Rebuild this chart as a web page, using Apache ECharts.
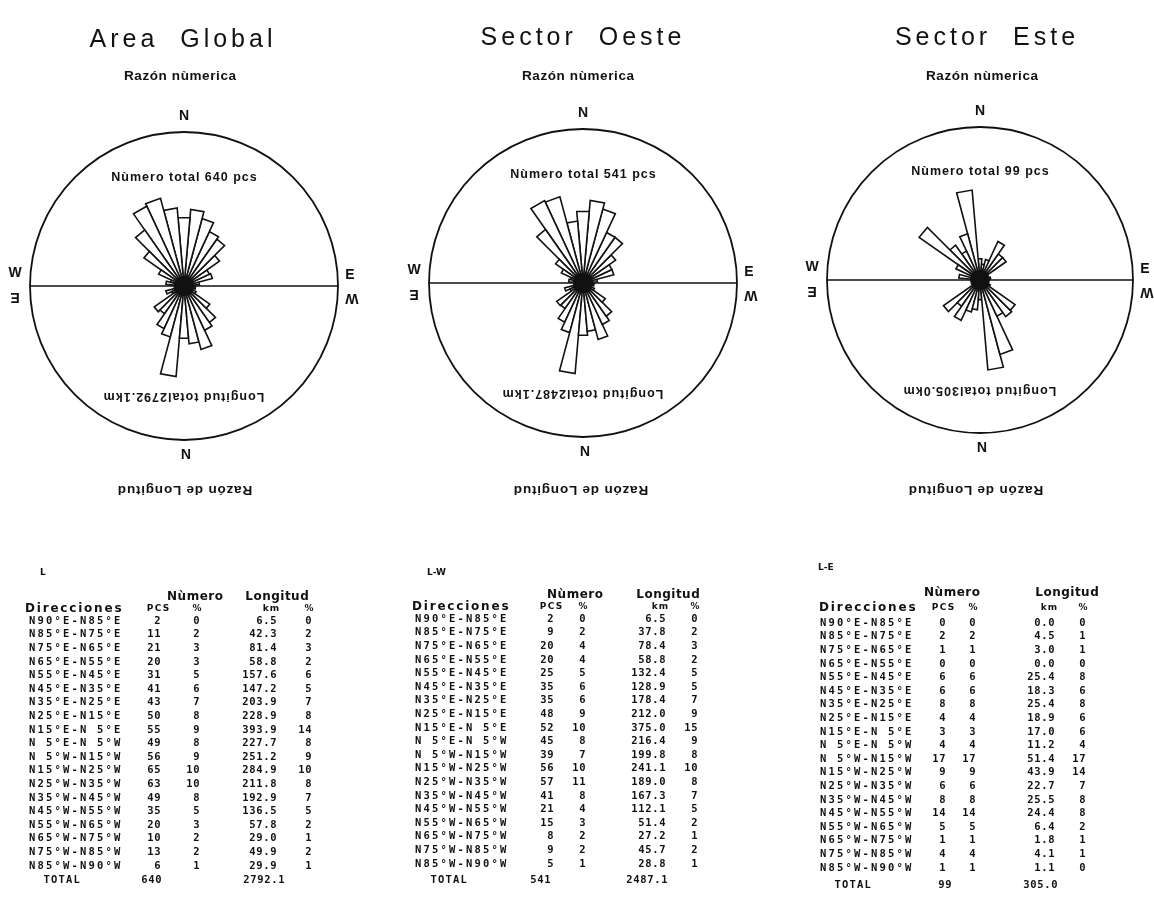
<!DOCTYPE html>
<html>
<head>
<meta charset="utf-8">
<script src="https://cdn.jsdelivr.net/npm/echarts@6/dist/echarts.min.js"></script>
<style>
  html, body { margin: 0; padding: 0; background: #ffffff; }
  #chart { width: 1154px; height: 899px; }
</style>
</head>
<body>
<div id="chart"></div>
<script>
// Direction classes of the lineaments, from N90°E round through N to N90°W
const directions = ['N90°E-N85°E', 'N85°E-N75°E', 'N75°E-N65°E', 'N65°E-N55°E', 'N55°E-N45°E',
  'N45°E-N35°E', 'N35°E-N25°E', 'N25°E-N15°E', 'N15°E-N 5°E', 'N 5°E-N 5°W', 'N 5°W-N15°W',
  'N15°W-N25°W', 'N25°W-N35°W', 'N35°W-N45°W', 'N45°W-N55°W', 'N55°W-N65°W', 'N65°W-N75°W',
  'N75°W-N85°W', 'N85°W-N90°W'];
// limits of each class as azimuths (degrees clockwise from N, west negative)
const azFrom = [90, 85, 75, 65, 55, 45, 35, 25, 15, 5, -5, -15, -25, -35, -45, -55, -65, -75, -85];
const azTo = [85, 75, 65, 55, 45, 35, 25, 15, 5, -5, -15, -25, -35, -45, -55, -65, -75, -85, -90];

// Area Global
const globalPcs = [2, 11, 21, 20, 31, 41, 43, 50, 55, 49, 56, 65, 63, 49, 35, 20, 10, 13, 6];
const globalPcsPct = [0, 2, 3, 3, 5, 6, 7, 8, 9, 8, 9, 10, 10, 8, 5, 3, 2, 2, 1];
const globalKm = [6.5, 42.3, 81.4, 58.8, 157.6, 147.2, 203.9, 228.9, 393.9, 227.7, 251.2, 284.9, 211.8, 192.9, 136.5, 57.8, 29.0, 49.9, 29.9];
const globalKmPct = [0, 2, 3, 2, 6, 5, 7, 8, 14, 8, 9, 10, 8, 7, 5, 2, 1, 2, 1];

// Sector Oeste
const westPcs = [2, 9, 20, 20, 25, 35, 35, 48, 52, 45, 39, 56, 57, 41, 21, 15, 8, 9, 5];
const westPcsPct = [0, 2, 4, 4, 5, 6, 6, 9, 10, 8, 7, 10, 11, 8, 4, 3, 2, 2, 1];
const westKm = [6.5, 37.8, 78.4, 58.8, 132.4, 128.9, 178.4, 212.0, 375.0, 216.4, 199.8, 241.1, 189.0, 167.3, 112.1, 51.4, 27.2, 45.7, 28.8];
const westKmPct = [0, 2, 3, 2, 5, 5, 7, 9, 15, 9, 8, 10, 8, 7, 5, 2, 1, 2, 1];

// Sector Este
const eastPcs = [0, 2, 1, 0, 6, 6, 8, 4, 3, 4, 17, 9, 6, 8, 14, 5, 1, 4, 1];
const eastPcsPct = [0, 2, 1, 0, 6, 6, 8, 4, 3, 4, 17, 9, 6, 8, 14, 5, 1, 4, 1];
const eastKm = [0.0, 4.5, 3.0, 0.0, 25.4, 18.3, 25.4, 18.9, 17.0, 11.2, 51.4, 43.9, 22.7, 25.5, 24.4, 6.4, 1.8, 4.1, 1.1];
const eastKmPct = [0, 1, 1, 0, 8, 6, 8, 6, 6, 4, 17, 14, 7, 8, 8, 2, 1, 1, 0];

const panelTitles = ['Area  Global', 'Sector  Oeste', 'Sector  Este'];
const tableTags = ['L', 'L-W', 'L-E'];
const totalPcs = [640, 541, 99];
const totalKm = [2792.1, 2487.1, 305.0];

const datasets = [
  { pcs: globalPcs, pcsPct: globalPcsPct, km: globalKm, kmPct: globalKmPct },
  { pcs: westPcs, pcsPct: westPcsPct, km: westKm, kmPct: westKmPct },
  { pcs: eastPcs, pcsPct: eastPcsPct, km: eastKm, kmPct: eastKmPct }
];

// ---------- layout ----------
const INK = '#111111';
const PETAL_REACH = 0.59;   // longest petal as a share of the circle radius
const ROW_STEP = 13.6;
const layout = [
  { cx: 184, cy: 286, R: 154, titleX: 181, titleY: 40, subX: 180, lowX: 185,
    t: { tagX: 40, tagY: 573, numX: 195, longX: 277, headY: 597, dirX: 25, subY: 609, labelX: 28,
         pcsR: 161, pctR: 200, kmR: 277, kmPctR: 312, rowY0: 621, totX: 43, totY: 880, totPcsR: 162, totKmR: 285 } },
  { cx: 583, cy: 283, R: 154, titleX: 581, titleY: 38, subX: 578, lowX: 581,
    t: { tagX: 427, tagY: 573, numX: 575, longX: 668, headY: 595, dirX: 412, subY: 607, labelX: 414,
         pcsR: 554, pctR: 586, kmR: 666, kmPctR: 698, rowY0: 619, totX: 430, totY: 880, totPcsR: 551, totKmR: 668 } },
  { cx: 980, cy: 280, R: 153, titleX: 985, titleY: 38, subX: 982, lowX: 976,
    t: { tagX: 818, tagY: 568, numX: 952, longX: 1067, headY: 593, dirX: 819, subY: 608, labelX: 819,
         pcsR: 946, pctR: 976, kmR: 1055, kmPctR: 1086, rowY0: 623, totX: 834, totY: 885, totPcsR: 952, totKmR: 1058 } }
];

const FONT_TITLE = { family: '"Liberation Sans", Arial, sans-serif', size: 25, weight: 'normal' };
const FONT_SUB = { family: '"Liberation Sans", Arial, sans-serif', size: 13.5, weight: 'bold' };
const FONT_RING = { family: '"Liberation Sans", Arial, sans-serif', size: 12.5, weight: 'bold' };
const FONT_CARD = { family: '"Liberation Sans", Arial, sans-serif', size: 14, weight: 'bold' };
const FONT_HEAD = { family: '"DejaVu Sans", sans-serif', size: 12, weight: 'bold' };
const FONT_SMALL = { family: '"DejaVu Sans", sans-serif', size: 9, weight: 'bold' };
const FONT_CELL = { family: '"DejaVu Sans Mono", monospace', size: 10.5, weight: 'bold' };

// ---------- text helpers ----------
const meter = document.createElement('canvas').getContext('2d');
const cssFont = f => `${f.weight} ${f.size}px ${f.family}`;
const textStyle = (str, f, align) => ({
  text: str, fill: INK, fontFamily: f.family, fontSize: f.size, fontWeight: f.weight,
  align: align || 'center', verticalAlign: 'middle'
});

// proportional text with extra letter spacing; anchor 'center' or 'left'
function tracked(str, x, y, f, track, anchor) {
  meter.font = cssFont(f);
  const chars = [...str];
  const ws = chars.map(c => meter.measureText(c).width);
  const total = ws.reduce((a, b) => a + b, 0) + track * (chars.length - 1);
  let px = anchor === 'left' ? x : x - total / 2;
  const out = [];
  chars.forEach((c, i) => {
    if (c !== ' ') out.push({ type: 'text', x: px, y, silent: true, style: textStyle(c, f, 'left') });
    px += ws[i] + track;
  });
  return out;
}

// fixed-pitch run of characters starting at `left`
function pitched(str, left, y, pitch, f) {
  const out = [];
  [...str].forEach((c, i) => {
    if (c === ' ') return;
    out.push({ type: 'text', x: left + i * pitch + pitch / 2, y, silent: true, style: textStyle(c, f) });
  });
  return out;
}
const pitchedRight = (str, right, y, pitch, f) => pitched(str, right - [...str].length * pitch, y, pitch, f);

function upsideDown(children, x, y) {
  return { type: 'group', x, y, rotation: Math.PI, children };
}

// ---------- rose petals ----------
function petal(params, api) {
  const r = api.value(0);
  if (!(r > 0)) return null;
  const a1 = api.value(1), a2 = api.value(2);
  const c = api.coord([0, a1]);
  const p1 = api.coord([r, a1]);
  const p2 = api.coord([r, a2]);
  return {
    type: 'polygon',
    shape: { points: [c, p1, p2] },
    style: { fill: '#ffffff', stroke: INK, lineWidth: 1.6, lineJoin: 'miter' }
  };
}

const polar = [], angleAxis = [], radiusAxis = [], series = [], elements = [];

layout.forEach((L, k) => {
  const d = datasets[k];
  const up = 2 * k, dn = 2 * k + 1;
  [up, dn].forEach(idx => {
    polar.push({ center: [L.cx, L.cy], radius: L.R });
    angleAxis.push({
      polarIndex: idx, type: 'value', min: 0, max: 360, startAngle: 90, clockwise: true,
      axisLine: { show: idx === up, lineStyle: { color: INK, width: 1.8 } },
      axisTick: { show: false }, axisLabel: { show: false },
      splitLine: { show: false }, splitArea: { show: false }
    });
  });
  radiusAxis.push({ polarIndex: up, type: 'value', min: 0, max: Math.max(...d.pcs) / PETAL_REACH,
    axisLine: { show: false }, axisTick: { show: false }, axisLabel: { show: false }, splitLine: { show: false } });
  radiusAxis.push({ polarIndex: dn, type: 'value', min: 0, max: Math.max(...d.km) / PETAL_REACH,
    axisLine: { show: false }, axisTick: { show: false }, axisLabel: { show: false }, splitLine: { show: false } });

  // upper half: number of lineaments; lower half: length, turned through 180°
  series.push({
    type: 'custom', coordinateSystem: 'polar', polarIndex: up, silent: true,
    dimensions: ['value', 'from', 'to'], encode: { radius: 0, angle: 1 },
    data: d.pcs.map((v, i) => [v, azFrom[i], azTo[i]]),
    renderItem: petal
  });
  series.push({
    type: 'custom', coordinateSystem: 'polar', polarIndex: dn, silent: true,
    dimensions: ['value', 'from', 'to'], encode: { radius: 0, angle: 1 },
    data: d.km.map((v, i) => [v, azFrom[i] + 180, azTo[i] + 180]),
    renderItem: petal
  });

  // E-W divider and the dark hub where the petals meet
  elements.push({ type: 'line', z: 0, silent: true,
    shape: { x1: L.cx - L.R, y1: L.cy, x2: L.cx + L.R, y2: L.cy },
    style: { stroke: INK, lineWidth: 1.5 } });
  elements.push({ type: 'circle', z: 100, silent: true,
    shape: { cx: L.cx, cy: L.cy, r: 10 }, style: { fill: INK } });

  // headings
  elements.push(...tracked(panelTitles[k], L.titleX, L.titleY, FONT_TITLE, 4));
  elements.push(...tracked('Razón nùmerica', L.subX, 76, FONT_SUB, 0.6));
  elements.push(upsideDown(tracked('Razón de Longitud', 0, 0, FONT_SUB, 0.8), L.lowX, 490));

  // compass letters
  elements.push({ type: 'text', x: L.cx, y: L.cy - L.R - 16, style: textStyle('N', FONT_CARD) });
  elements.push(upsideDown([{ type: 'text', style: textStyle('N', FONT_CARD) }], L.cx + 2, L.cy + L.R + 13));
  elements.push({ type: 'text', x: L.cx - L.R - 15, y: L.cy - 13, style: textStyle('W', FONT_CARD) });
  elements.push({ type: 'text', x: L.cx + L.R + 12, y: L.cy - 11, style: textStyle('E', FONT_CARD) });
  elements.push(upsideDown([{ type: 'text', style: textStyle('E', FONT_CARD) }], L.cx - L.R - 15, L.cy + 11));
  elements.push(upsideDown([{ type: 'text', style: textStyle('W', FONT_CARD) }], L.cx + L.R + 14, L.cy + 12));

  // totals written inside the circle
  elements.push(...tracked(`Nùmero total ${totalPcs[k]} pcs`, L.cx, L.cy - 108, FONT_RING, 1));
  elements.push(upsideDown(tracked(`Longitud total${totalKm[k].toFixed(1)}km`, 0, 0, FONT_RING, 1), L.cx, L.cy + 110));

  // table
  const T = L.t;
  elements.push({ type: 'text', x: T.tagX, y: T.tagY, style: textStyle(tableTags[k], FONT_SMALL, 'left') });
  elements.push(...tracked('Nùmero', T.numX, T.headY, FONT_HEAD, 0.5));
  elements.push(...tracked('Longitud', T.longX, T.headY, FONT_HEAD, 0.5));
  elements.push(...tracked('Direcciones', T.dirX, T.subY, FONT_HEAD, 1.8, 'left'));
  elements.push(...tracked('PCS', T.pcsR - 3, T.subY, FONT_SMALL, 1.5));
  elements.push({ type: 'text', x: T.pctR - 3, y: T.subY, style: textStyle('%', FONT_SMALL) });
  elements.push(...tracked('km', T.kmR - 6, T.subY, FONT_SMALL, 1));
  elements.push({ type: 'text', x: T.kmPctR - 3, y: T.subY, style: textStyle('%', FONT_SMALL) });

  directions.forEach((dir, i) => {
    const y = T.rowY0 + i * ROW_STEP;
    elements.push(...pitched(dir, T.labelX, y, 8.5, FONT_CELL));
    elements.push(...pitchedRight(String(d.pcs[i]), T.pcsR, y, 7, FONT_CELL));
    elements.push(...pitchedRight(String(d.pcsPct[i]), T.pctR, y, 7, FONT_CELL));
    elements.push(...pitchedRight(d.km[i].toFixed(1), T.kmR, y, 7, FONT_CELL));
    elements.push(...pitchedRight(String(d.kmPct[i]), T.kmPctR, y, 7, FONT_CELL));
  });
  elements.push(...pitched('TOTAL', T.totX, T.totY, 7.5, FONT_CELL));
  elements.push(...pitchedRight(String(totalPcs[k]), T.totPcsR, T.totY, 7, FONT_CELL));
  elements.push(...pitchedRight(totalKm[k].toFixed(1), T.totKmR, T.totY, 7, FONT_CELL));
});

const chart = echarts.init(document.getElementById('chart'), null, { renderer: 'canvas' });
chart.setOption({
  backgroundColor: '#ffffff',
  animation: false,
  polar, angleAxis, radiusAxis, series,
  graphic: { elements }
});
</script>
</body>
</html>
